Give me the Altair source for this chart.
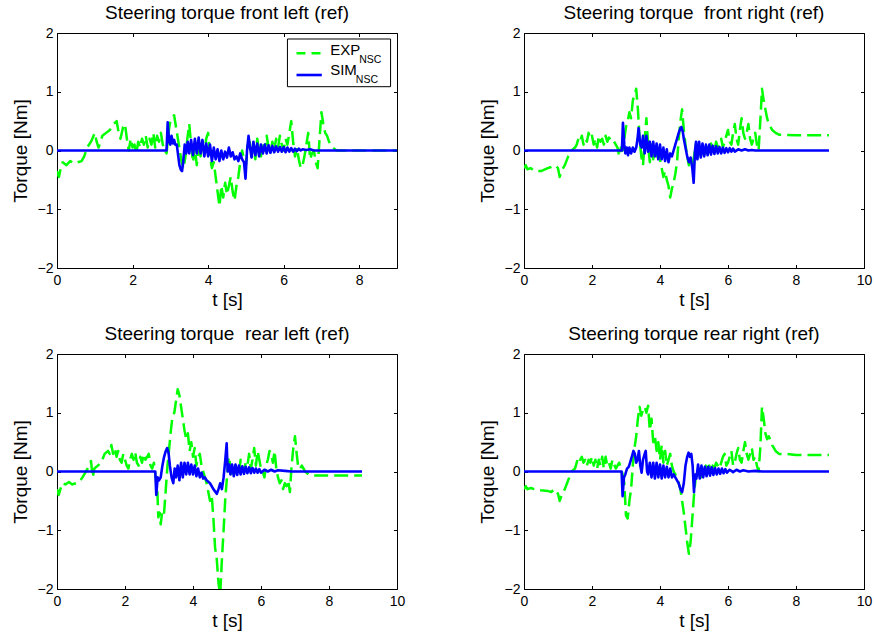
import altair as alt
import pandas as pd

# ---------------- data ----------------
TL_EXP_T = [0.0, 0.05, 0.1, 0.15, 0.25, 0.35, 0.45, 0.55, 0.65, 0.72, 0.8, 0.9, 1.0, 1.05, 1.1, 1.2, 1.3, 1.4, 1.5, 1.58,
            1.62, 1.68, 1.75, 1.8, 1.85, 1.9, 1.95, 2.0, 2.05, 2.1, 2.15, 2.2, 2.25, 2.3, 2.35, 2.4, 2.45, 2.5, 2.55, 2.6,
            2.65, 2.7, 2.75, 2.8, 2.85, 2.9, 2.95, 3.0, 3.05, 3.1, 3.15, 3.2, 3.25, 3.3, 3.35, 3.4, 3.45, 3.5, 3.55, 3.6,
            3.65, 3.7, 3.75, 3.8, 3.85, 3.9, 3.95, 4.0, 4.05, 4.1, 4.15, 4.2, 4.25, 4.3, 4.35, 4.4, 4.45, 4.5, 4.55, 4.6,
            4.65, 4.7, 4.75, 4.8, 4.85, 4.9, 4.95, 5.0, 5.05, 5.1, 5.15, 5.2, 5.25, 5.3, 5.35, 5.4, 5.45, 5.5, 5.55, 5.6,
            5.65, 5.7, 5.75, 5.8, 5.85, 5.9, 5.95, 6.0, 6.05, 6.1, 6.15, 6.2, 6.25, 6.3, 6.35, 6.4, 6.45, 6.5, 6.55, 6.6,
            6.65, 6.7, 6.75, 6.8, 6.85, 6.9, 6.95, 7.0, 7.05, 7.1, 7.15, 7.2, 7.3, 7.4, 7.6, 9.0]
TL_EXP_V = [-0.35, -0.45, -0.3, -0.2, -0.25, -0.18, -0.22, -0.2, -0.18, -0.1, 0.05, 0.15, 0.3, 0.15, 0.05, 0.25, 0.3, 0.35, 0.45, 0.5,
            0.35, 0.2, 0.4, 0.45, 0.2, 0.0, 0.2, 0.05, 0.1, -0.05, 0.15, 0.05, 0.2, 0.1, 0.25, 0.05, 0.2, 0.1, 0.3, 0.05,
            0.25, 0.15, 0.3, 0.1, 0.0, -0.05, 0.3, 0.5, 0.55, 0.6, 0.4, 0.2, 0.0, -0.2, -0.3, -0.1, 0.2, 0.45, 0.1, -0.2,
            0.05, -0.25, 0.1, -0.1, 0.15, -0.05, 0.2, 0.3, -0.1, -0.3, -0.2, -0.45, -0.7, -0.95, -0.6, -0.8, -0.55, -0.75, -0.6, -0.45,
            -0.7, -0.85, -0.6, -0.45, -0.2, 0.0, -0.15, -0.25, 0.1, 0.15, -0.1, 0.05, -0.15, 0.2, 0.0, -0.1, 0.15, 0.0, 0.25, 0.05,
            -0.05, 0.15, 0.0, 0.2, 0.05, 0.25, 0.1, 0.0, 0.2, 0.1, 0.3, 0.5, 0.15, -0.1, 0.05, -0.15, -0.3, -0.25, -0.1, 0.1,
            0.3, -0.15, -0.05, 0.0, -0.2, -0.3, 0.2, 0.65, 0.45, 0.3, 0.25, 0.15, 0.05, 0.0, 0.0, 0.0]
TL_SIM_T = [0.0, 2.9, 2.93, 2.97, 3.0, 3.03, 3.07, 3.1, 3.13, 3.17, 3.2, 3.24, 3.28, 3.31, 3.34, 3.38, 3.42, 3.46, 3.5, 3.55,
            3.6, 3.65, 3.7, 3.75, 3.8, 3.85, 3.9, 3.95, 4.0, 4.05, 4.1, 4.15, 4.2, 4.25, 4.3, 4.35, 4.4, 4.45, 4.5, 4.55,
            4.6, 4.65, 4.7, 4.75, 4.8, 4.85, 4.9, 4.95, 4.99, 5.03, 5.07, 5.11, 5.15, 5.2, 5.25, 5.3, 5.35, 5.4, 5.45, 5.5,
            5.55, 5.6, 5.65, 5.7, 5.75, 5.8, 5.85, 5.9, 5.95, 6.0, 6.05, 6.1, 6.15, 6.2, 6.25, 6.3, 6.35, 6.4, 6.45, 6.5,
            6.6, 6.7, 6.8, 9.0]
TL_SIM_V = [0.0, 0.0, 0.48, 0.15, 0.1, 0.25, 0.12, 0.18, 0.1, 0.1, -0.05, -0.25, -0.33, -0.35, -0.2, 0.1, -0.05, 0.15, -0.05, 0.18,
            -0.08, 0.2, -0.05, 0.22, -0.05, 0.18, -0.1, 0.12, -0.1, 0.1, -0.18, 0.05, -0.15, 0.02, -0.18, 0.0, -0.15, -0.02, -0.12, 0.05,
            -0.1, -0.03, -0.15, -0.1, -0.18, -0.05, -0.15, -0.2, -0.48, 0.0, 0.25, 0.05, -0.12, 0.15, -0.08, 0.12, -0.1, 0.1, -0.05, 0.1,
            -0.05, 0.09, -0.04, 0.08, -0.03, 0.07, -0.02, 0.06, -0.02, 0.06, -0.03, 0.05, -0.02, 0.04, -0.02, 0.03, -0.01, 0.03, 0.0, 0.02,
            0.01, 0.02, 0.0, 0.0]

TR_EXP_T = [0.0, 0.05, 0.1, 0.2, 0.3, 0.5, 0.7, 0.8, 0.9, 1.0, 1.05, 1.1, 1.2, 1.3, 1.4, 1.5, 1.55, 1.6, 1.65, 1.7,
            1.75, 1.8, 1.85, 1.9, 1.95, 2.0, 2.05, 2.1, 2.15, 2.2, 2.25, 2.3, 2.35, 2.4, 2.45, 2.5, 2.55, 2.6, 2.7, 2.75,
            2.8, 2.85, 2.9, 2.95, 3.0, 3.05, 3.1, 3.15, 3.2, 3.25, 3.3, 3.35, 3.4, 3.45, 3.5, 3.55, 3.6, 3.65, 3.7, 3.75,
            3.8, 3.85, 3.9, 3.95, 4.0, 4.05, 4.1, 4.15, 4.2, 4.25, 4.3, 4.35, 4.4, 4.45, 4.5, 4.55, 4.6, 4.65, 4.7, 4.75,
            4.8, 4.85, 4.9, 4.95, 5.0, 5.05, 5.1, 5.15, 5.2, 5.25, 5.3, 5.35, 5.4, 5.45, 5.5, 5.55, 5.6, 5.65, 5.7, 5.75,
            5.8, 5.85, 5.9, 5.95, 6.0, 6.05, 6.1, 6.15, 6.2, 6.25, 6.3, 6.35, 6.4, 6.45, 6.5, 6.55, 6.6, 6.65, 6.7, 6.75,
            6.8, 6.85, 6.9, 6.95, 7.0, 7.05, 7.1, 7.15, 7.2, 7.3, 7.4, 7.5, 8.0, 8.97]
TR_EXP_V = [-0.3, -0.25, -0.32, -0.3, -0.35, -0.35, -0.3, -0.28, -0.25, -0.3, -0.45, -0.35, -0.25, -0.1, 0.0, 0.05, 0.1, 0.2, 0.15, 0.25,
            0.1, 0.2, 0.15, 0.3, 0.2, 0.25, 0.1, 0.2, 0.05, 0.25, 0.15, 0.2, 0.1, 0.25, 0.15, 0.22, 0.18, 0.2, 0.1, 0.05,
            -0.1, 0.05, 0.0, 0.2, 0.4, 0.5, 0.65, 0.55, 0.85, 0.95, 1.05, 0.7, 0.2, -0.1, -0.25, 0.2, 0.55, 0.1, -0.2, 0.1,
            -0.15, 0.05, -0.1, 0.1, -0.15, -0.3, -0.45, -0.35, -0.5, -0.6, -0.8, -0.65, -0.55, -0.4, -0.2, 0.2, 0.5, 0.7, 0.35, 0.1,
            -0.1, -0.25, -0.15, -0.25, -0.1, 0.1, -0.05, 0.05, -0.1, 0.1, 0.0, -0.05, 0.1, 0.0, 0.12, 0.05, 0.0, 0.15, 0.05, 0.1,
            0.2, 0.05, 0.15, 0.25, 0.35, 0.15, 0.1, 0.3, 0.45, 0.2, 0.1, 0.35, 0.55, 0.3, 0.2, 0.3, 0.45, 0.2, 0.1, 0.2,
            0.3, 0.1, 0.0, 0.5, 1.05, 0.85, 0.7, 0.55, 0.45, 0.35, 0.3, 0.27, 0.26, 0.26]
TR_SIM_T = [0.0, 2.88, 2.91, 2.95, 2.98, 3.02, 3.06, 3.1, 3.15, 3.2, 3.25, 3.3, 3.34, 3.37, 3.42, 3.46, 3.5, 3.55, 3.6, 3.65,
            3.7, 3.75, 3.8, 3.85, 3.9, 3.95, 4.0, 4.05, 4.1, 4.15, 4.2, 4.25, 4.3, 4.35, 4.4, 4.45, 4.5, 4.55, 4.6, 4.63,
            4.67, 4.7, 4.75, 4.8, 4.85, 4.9, 4.95, 4.99, 5.03, 5.06, 5.1, 5.15, 5.2, 5.25, 5.3, 5.35, 5.4, 5.45, 5.5, 5.55,
            5.6, 5.65, 5.7, 5.75, 5.8, 5.85, 5.9, 5.95, 6.0, 6.05, 6.1, 6.15, 6.2, 6.3, 6.4, 6.5, 6.6, 6.7, 6.8, 8.97]
TR_SIM_V = [0.0, 0.0, 0.47, 0.1, -0.05, 0.05, -0.08, 0.05, -0.05, 0.05, -0.02, 0.05, 0.2, 0.38, 0.1, 0.05, 0.25, -0.05, 0.25, -0.02,
            0.15, -0.1, 0.15, -0.1, 0.12, -0.15, 0.1, -0.15, 0.05, -0.18, 0.02, -0.2, -0.05, -0.1, 0.0, 0.1, 0.2, 0.3, 0.38, 0.4,
            0.32, 0.2, 0.05, -0.1, -0.2, -0.12, -0.3, -0.55, 0.0, 0.15, -0.15, 0.15, -0.12, 0.12, -0.1, 0.1, -0.08, 0.1, -0.07, 0.08,
            -0.06, 0.07, -0.05, 0.06, -0.05, 0.05, -0.04, 0.04, -0.03, 0.04, -0.02, 0.03, -0.02, 0.02, 0.0, 0.02, 0.0, 0.01, 0.0, 0.0]

BL_EXP_T = [0.0, 0.05, 0.1, 0.15, 0.25, 0.35, 0.45, 0.55, 0.65, 0.75, 0.85, 0.95, 1.0, 1.05, 1.1, 1.2, 1.3, 1.4, 1.5, 1.55,
            1.6, 1.65, 1.7, 1.75, 1.8, 1.85, 1.9, 1.95, 2.0, 2.05, 2.1, 2.15, 2.2, 2.25, 2.3, 2.35, 2.4, 2.45, 2.5, 2.55,
            2.6, 2.65, 2.7, 2.75, 2.8, 2.85, 2.9, 2.95, 2.98, 3.02, 3.05, 3.1, 3.15, 3.2, 3.25, 3.3, 3.35, 3.4, 3.45, 3.5,
            3.55, 3.6, 3.65, 3.7, 3.75, 3.8, 3.85, 3.9, 3.95, 4.0, 4.05, 4.1, 4.15, 4.2, 4.25, 4.3, 4.35, 4.4, 4.45, 4.5,
            4.55, 4.6, 4.65, 4.7, 4.75, 4.8, 4.85, 4.9, 4.95, 5.0, 5.05, 5.1, 5.15, 5.2, 5.25, 5.3, 5.35, 5.4, 5.45, 5.5,
            5.55, 5.6, 5.65, 5.7, 5.75, 5.8, 5.85, 5.9, 5.95, 6.0, 6.05, 6.1, 6.15, 6.2, 6.25, 6.3, 6.35, 6.4, 6.45, 6.5,
            6.55, 6.6, 6.65, 6.7, 6.75, 6.8, 6.85, 6.9, 6.95, 7.0, 7.05, 7.1, 7.15, 7.2, 7.3, 7.4, 7.5, 8.97]
BL_EXP_V = [-0.3, -0.4, -0.3, -0.2, -0.22, -0.18, -0.22, -0.2, -0.18, -0.1, 0.0, 0.1, 0.18, -0.1, 0.05, 0.1, 0.15, 0.3, 0.35, 0.3,
            0.45, 0.3, 0.4, 0.25, 0.35, 0.2, 0.15, 0.3, 0.2, 0.1, 0.05, 0.2, 0.3, 0.2, 0.33, 0.15, 0.1, 0.25, 0.15, 0.3,
            0.2, 0.25, 0.3, 0.1, 0.05, 0.15, -0.1, -0.3, -0.78, -0.7, -0.9, -0.65, -0.7, -0.3, 0.1, 0.4, 0.7, 0.95, 1.0, 1.2,
            1.4, 1.3, 1.1, 0.9, 0.7, 0.55, 0.65, 0.35, 0.5, 0.25, 0.4, 0.1, 0.25, 0.3, 0.1, 0.0, -0.1, -0.2, -0.35, -0.5,
            -0.4, -0.8, -1.3, -1.5, -1.9, -2.1, -1.5, -1.0, -0.45, -0.1, 0.25, 0.1, -0.05, -0.1, 0.1, 0.05, -0.05, 0.2, 0.05, 0.0,
            0.15, 0.1, 0.3, 0.05, 0.2, 0.4, 0.1, 0.35, 0.2, 0.05, 0.0, -0.1, 0.1, 0.2, 0.35, 0.3, 0.15, 0.35, 0.05, -0.1,
            -0.2, -0.15, -0.3, -0.2, -0.25, -0.15, -0.35, 0.1, 0.4, 0.6, 0.3, 0.05, 0.05, 0.1, 0.0, -0.05, -0.07, -0.07]
BL_SIM_T = [0.0, 2.89, 2.92, 2.96, 3.0, 3.05, 3.1, 3.15, 3.2, 3.24, 3.28, 3.32, 3.37, 3.42, 3.46, 3.5, 3.55, 3.6, 3.65, 3.7,
            3.75, 3.8, 3.85, 3.9, 3.95, 4.0, 4.05, 4.1, 4.15, 4.2, 4.25, 4.3, 4.35, 4.4, 4.5, 4.6, 4.7, 4.75, 4.8, 4.85,
            4.9, 4.95, 4.99, 5.02, 5.06, 5.1, 5.15, 5.2, 5.25, 5.3, 5.35, 5.4, 5.45, 5.5, 5.55, 5.6, 5.65, 5.7, 5.75, 5.8,
            5.85, 5.9, 5.95, 6.0, 6.1, 6.2, 6.3, 6.4, 6.5, 6.7, 6.9, 8.97]
BL_SIM_V = [0.0, 0.0, -0.4, -0.1, -0.15, -0.1, 0.1, 0.25, 0.35, 0.4, 0.32, 0.1, -0.1, -0.2, 0.05, -0.1, 0.1, -0.15, 0.15, -0.1,
            0.15, -0.05, 0.15, -0.05, 0.12, -0.05, 0.1, -0.08, 0.05, -0.1, -0.02, -0.12, -0.1, -0.15, -0.2, -0.3, -0.38, -0.3, -0.2, -0.3,
            -0.1, 0.2, 0.48, 0.0, 0.12, -0.05, 0.12, -0.08, 0.12, -0.06, 0.1, -0.05, 0.09, -0.04, 0.08, -0.03, 0.07, -0.03, 0.06, -0.02,
            0.05, -0.02, 0.04, -0.02, 0.03, 0.0, 0.03, 0.0, 0.02, 0.01, 0.0, 0.0]

BR_EXP_T = [0.0, 0.05, 0.1, 0.2, 0.3, 0.5, 0.7, 0.8, 0.9, 1.0, 1.05, 1.1, 1.2, 1.3, 1.4, 1.5, 1.55, 1.6, 1.65, 1.7,
            1.75, 1.8, 1.85, 1.9, 1.95, 2.0, 2.05, 2.1, 2.15, 2.2, 2.25, 2.3, 2.35, 2.4, 2.45, 2.5, 2.55, 2.6, 2.7, 2.8,
            2.85, 2.9, 2.95, 3.0, 3.05, 3.1, 3.15, 3.2, 3.25, 3.3, 3.35, 3.4, 3.45, 3.5, 3.55, 3.6, 3.65, 3.7, 3.75, 3.8,
            3.85, 3.9, 3.95, 4.0, 4.05, 4.1, 4.15, 4.2, 4.3, 4.35, 4.4, 4.45, 4.5, 4.55, 4.6, 4.65, 4.7, 4.75, 4.8, 4.85,
            4.9, 4.95, 5.0, 5.05, 5.1, 5.15, 5.2, 5.25, 5.3, 5.35, 5.4, 5.45, 5.5, 5.55, 5.6, 5.65, 5.7, 5.75, 5.8, 5.85,
            5.9, 5.95, 6.0, 6.05, 6.1, 6.15, 6.2, 6.25, 6.3, 6.35, 6.4, 6.45, 6.5, 6.55, 6.6, 6.65, 6.7, 6.75, 6.8, 6.85,
            6.9, 6.95, 7.0, 7.05, 7.1, 7.15, 7.2, 7.3, 7.4, 7.5, 7.7, 8.0, 8.97]
BR_EXP_V = [-0.3, -0.25, -0.3, -0.28, -0.3, -0.32, -0.33, -0.35, -0.3, -0.38, -0.5, -0.42, -0.3, -0.15, 0.0, 0.05, 0.15, 0.25, 0.2, 0.25,
            0.15, 0.2, 0.1, 0.2, 0.15, 0.25, 0.1, 0.2, 0.05, 0.2, 0.1, 0.25, 0.05, 0.25, 0.1, 0.15, 0.05, 0.2, 0.05, 0.15,
            0.05, -0.05, -0.2, -0.75, -0.8, -0.5, -0.3, 0.1, 0.4, 0.6, 0.9, 1.1, 0.95, 1.05, 1.1, 1.0, 1.12, 0.7, 0.9, 0.5,
            0.6, 0.35, 0.5, 0.2, 0.45, 0.15, 0.35, 0.1, 0.3, 0.1, 0.0, -0.05, -0.1, -0.2, -0.3, -0.5, -0.7, -0.95, -1.2, -1.4,
            -1.2, -0.8, -0.4, -0.1, 0.0, -0.05, -0.1, 0.05, 0.0, 0.1, 0.05, 0.1, 0.0, 0.1, 0.05, 0.15, 0.1, 0.05, 0.15, 0.25,
            0.3, 0.1, 0.15, 0.25, 0.35, 0.1, 0.15, 0.3, 0.4, 0.2, 0.15, 0.35, 0.5, 0.3, 0.2, 0.3, 0.4, 0.2, 0.25, 0.1,
            0.0, 0.4, 1.1, 0.9, 0.65, 0.55, 0.6, 0.45, 0.35, 0.3, 0.3, 0.28, 0.28]
BR_SIM_T = [0.0, 2.87, 2.9, 2.94, 2.98, 3.03, 3.08, 3.12, 3.17, 3.22, 3.26, 3.3, 3.34, 3.38, 3.42, 3.46, 3.5, 3.55, 3.58, 3.62,
            3.65, 3.7, 3.75, 3.8, 3.85, 3.9, 3.95, 4.0, 4.05, 4.1, 4.15, 4.2, 4.25, 4.3, 4.35, 4.4, 4.45, 4.5, 4.55, 4.6,
            4.65, 4.7, 4.75, 4.8, 4.84, 4.88, 4.92, 4.96, 5.0, 5.03, 5.07, 5.12, 5.17, 5.22, 5.27, 5.32, 5.37, 5.42, 5.47, 5.52,
            5.57, 5.62, 5.67, 5.72, 5.77, 5.82, 5.87, 5.92, 5.97, 6.05, 6.15, 6.25, 6.35, 6.45, 6.6, 6.8, 7.0, 8.97]
BR_SIM_V = [0.0, 0.0, -0.42, -0.1, -0.05, 0.05, 0.08, 0.15, 0.25, 0.35, 0.3, 0.15, 0.2, 0.35, 0.1, -0.02, 0.2, 0.3, 0.35, 0.0,
            -0.05, 0.15, -0.1, 0.15, -0.12, 0.15, -0.1, 0.12, -0.12, 0.1, -0.1, 0.08, -0.1, 0.05, -0.1, -0.05, -0.1, -0.15, -0.2, -0.3,
            -0.35, -0.2, 0.1, 0.25, 0.32, 0.25, 0.3, 0.1, -0.35, -0.05, -0.12, 0.12, -0.12, 0.1, -0.1, 0.08, -0.08, 0.08, -0.07, 0.07,
            -0.06, 0.06, -0.05, 0.05, -0.04, 0.05, -0.03, 0.04, -0.02, 0.03, -0.01, 0.03, 0.0, 0.02, 0.0, 0.01, 0.0, 0.0]

NB = "\u00a0"
TITLES = ["Steering torque front left (ref)", "Steering torque" + NB + " front right (ref)",
          "Steering torque" + NB + " rear left (ref)", "Steering torque rear right (ref)"]
X_MAX = [9, 10, 10, 10]
X_TICKS = [[0, 2, 4, 6, 8], [0, 2, 4, 6, 8, 10], [0, 2, 4, 6, 8, 10], [0, 2, 4, 6, 8, 10]]
Y_TICKS = [-2, -1, 0, 1, 2]
LEGEND_LABELS = ["EXP", "SIM"]
LEGEND_SUB = "NSC"

# ---------------- styling ----------------
FONT = "Liberation Sans"
W, H = 340, 235
GREEN = "#00ff00"
BLUE = "#0000ff"
TL = 3.5  # inward tick length


def panel(i, exp_t, exp_v, sim_t, sim_v, legend=False):
    xs = alt.Scale(domain=[0, X_MAX[i]], nice=False, zero=False)
    ys = alt.Scale(domain=[-2, 2], nice=False)
    xaxis = alt.Axis(values=X_TICKS[i], title="t [s]", grid=True, gridColor="black", gridOpacity=1,
                     gridWidth=1, gridDash=[TL, H - 2 * TL, TL, 3000], ticks=False, tickSize=0, domain=False,
                     labelFont=FONT, labelFontSize=14, labelColor="black", labelPadding=5, labelFlush=False,
                     titleFont=FONT, titleFontSize=19, titleFontWeight="normal", titleColor="black",
                     titlePadding=3)
    yaxis = alt.Axis(values=Y_TICKS, title="Torque [Nm]", grid=True, gridColor="black", gridOpacity=1,
                     gridWidth=1, gridDash=[TL, W - 2 * TL, TL, 3000], ticks=False, tickSize=0, domain=False,
                     labelFont=FONT, labelFontSize=14, labelColor="black", labelPadding=4, labelFlush=False,
                     titleFont=FONT, titleFontSize=19, titleFontWeight="normal", titleColor="black",
                     titlePadding=7)
    exp_df = pd.DataFrame({"t": exp_t, "v": exp_v})
    sim_df = pd.DataFrame({"t": sim_t, "v": sim_v})
    exp = alt.Chart(exp_df).mark_line(color=GREEN, strokeWidth=2.5, strokeDash=[14, 6], clip=True,
                                      strokeJoin="round").encode(
        x=alt.X("t:Q", scale=xs, axis=xaxis), y=alt.Y("v:Q", scale=ys, axis=yaxis))
    sim = alt.Chart(sim_df).mark_line(color=BLUE, strokeWidth=2.6, clip=True, strokeJoin="round").encode(
        x=alt.X("t:Q", scale=xs, axis=xaxis), y=alt.Y("v:Q", scale=ys, axis=yaxis))
    layers = [exp, sim]
    if legend:
        base = alt.Chart(pd.DataFrame({"k": [0]}))

        def xd(v):
            return alt.XDatum(v, axis=xaxis, scale=xs)

        def yd(v):
            return alt.YDatum(v, axis=yaxis, scale=ys)

        box = base.mark_rect(fill="white", stroke="black", strokeWidth=1).encode(
            x=xd(6.10), x2=alt.X2Datum(8.83), y=yd(1.898), y2=alt.Y2Datum(1.086))
        l1 = base.mark_rule(color=GREEN, strokeWidth=2.5, strokeDash=[9, 6]).encode(
            x=xd(6.34), x2=alt.X2Datum(7.01), y=yd(1.654))
        l2 = base.mark_rule(color=BLUE, strokeWidth=2.6).encode(
            x=xd(6.34), x2=alt.X2Datum(7.01), y=yd(1.285))
        txt = dict(align="left", baseline="alphabetic", font=FONT, color="black")
        t1 = base.mark_text(text=LEGEND_LABELS[0], fontSize=15, **txt).encode(x=xd(7.23), y=yd(1.626))
        s1 = base.mark_text(text=LEGEND_SUB, fontSize=10.5, **txt).encode(x=xd(8.0), y=yd(1.484))
        t2 = base.mark_text(text=LEGEND_LABELS[1], fontSize=15, **txt).encode(x=xd(7.23), y=yd(1.285))
        s2 = base.mark_text(text=LEGEND_SUB, fontSize=10.5, **txt).encode(x=xd(7.91), y=yd(1.154))
        layers += [box, l1, l2, t1, s1, t2, s2]
    return alt.layer(*layers).properties(
        width=W, height=H,
        title=alt.Title(TITLES[i], font=FONT, fontSize=19, fontWeight="normal", color="black",
                        anchor="middle", baseline="alphabetic", offset=-12))


p1 = panel(0, TL_EXP_T, TL_EXP_V, TL_SIM_T, TL_SIM_V, legend=True)
p2 = panel(1, TR_EXP_T, TR_EXP_V, TR_SIM_T, TR_SIM_V)
p3 = panel(2, BL_EXP_T, BL_EXP_V, BL_SIM_T, BL_SIM_V)
p4 = panel(3, BR_EXP_T, BR_EXP_V, BR_SIM_T, BR_SIM_V)

chart = alt.concat(p1, p2, p3, p4, columns=2, spacing={"row": 86, "column": 127}, bounds="flush").properties(
    padding={"left": 10, "top": 3, "right": 0, "bottom": 0},
    background="white",
).configure_view(stroke="black", strokeWidth=1)

chart.save("out.html", embed_options={"renderer": "svg", "actions": False})
